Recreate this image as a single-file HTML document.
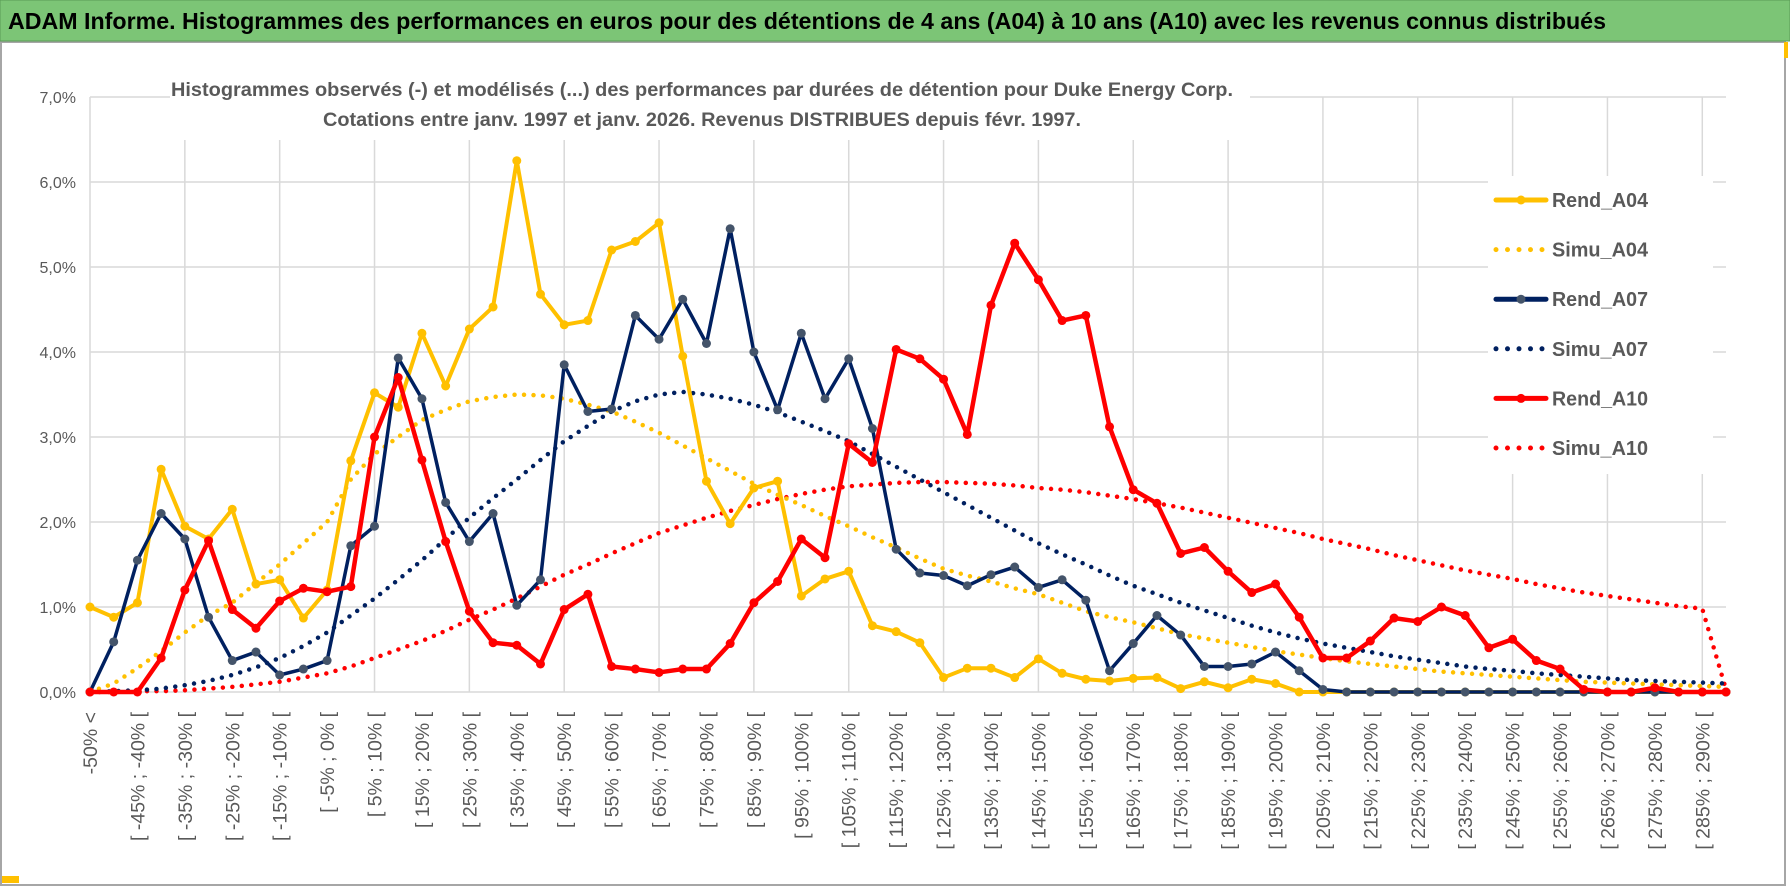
<!DOCTYPE html>
<html><head><meta charset="utf-8">
<style>
html,body{margin:0;padding:0;background:#fff;}
body{width:1790px;height:888px;overflow:hidden;font-family:"Liberation Sans",sans-serif;}
svg text{font-family:"Liberation Sans",sans-serif;}
</style></head>
<body>
<svg id="chart" width="1790" height="888" viewBox="0 0 1790 888" xmlns="http://www.w3.org/2000/svg">
  <rect x="0" y="0" width="1790" height="888" fill="#fff"/>
  <rect x="1" y="42" width="1784" height="843" fill="#fff" stroke="#a6a6a6" stroke-width="2"/>
  <rect x="0" y="0" width="1790" height="41" fill="#7cc576" stroke="#5a9c55" stroke-width="1"/>
  <text x="8" y="29" font-size="23" font-weight="bold" fill="#000" textLength="1598" lengthAdjust="spacingAndGlyphs">ADAM Informe. Histogrammes des performances en euros pour des détentions de 4 ans (A04) à 10 ans (A10) avec les revenus connus distribués</text>
  <rect x="1784" y="42" width="4" height="16" fill="#ffc000"/>
  <rect x="2" y="876" width="17" height="7" fill="#ffc000"/>
  <g id="grid"></g>
  <g id="axes"></g>
  <rect x="170" y="70" width="1080" height="70" fill="#fff"/>
  <text x="702" y="96" text-anchor="middle" font-size="19" font-weight="bold" fill="#595959" textLength="1062" lengthAdjust="spacingAndGlyphs">Histogrammes observés (-) et modélisés (...) des performances par durées de détention pour Duke Energy Corp.</text>
  <text x="702" y="126" text-anchor="middle" font-size="19" font-weight="bold" fill="#595959" textLength="758" lengthAdjust="spacingAndGlyphs">Cotations entre janv. 1997 et janv. 2026. Revenus DISTRIBUES depuis févr. 1997.</text>
  <g id="series"></g>
  <g id="legend"></g>
</svg>
<script>
const categories = ["-50% <"];
for (let k = 1; k < 70; k++) categories.push("[ " + (-55 + 5 * k) + "% ; " + (-50 + 5 * k) + "% [");
const yTicks = [0, 1, 2, 3, 4, 5, 6, 7];
const yTickLabels = ["0,0%", "1,0%", "2,0%", "3,0%", "4,0%", "5,0%", "6,0%", "7,0%"];
const rendA04 = [1.0,0.88,1.05,2.62,1.95,1.8,2.15,1.27,1.32,0.87,1.2,2.72,3.52,3.35,4.22,3.6,4.27,4.53,6.25,4.68,4.32,4.37,5.2,5.3,5.52,3.95,2.48,1.98,2.4,2.48,1.13,1.33,1.42,0.78,0.71,0.58,0.17,0.28,0.28,0.17,0.39,0.22,0.15,0.13,0.16,0.17,0.04,0.12,0.05,0.15,0.1,0,0,0,0,0,0,0,0,0,0,0,0,0,0,0,0,0,0,0];
const rendA07 = [0,0.59,1.55,2.1,1.8,0.88,0.37,0.47,0.2,0.27,0.37,1.72,1.95,3.93,3.45,2.23,1.77,2.1,1.02,1.32,3.85,3.3,3.33,4.43,4.15,4.62,4.1,5.45,4.0,3.32,4.22,3.45,3.92,3.1,1.68,1.4,1.37,1.25,1.38,1.47,1.23,1.32,1.08,0.25,0.57,0.9,0.67,0.3,0.3,0.33,0.47,0.25,0.03,0,0,0,0,0,0,0,0,0,0,0,0,0,0,0,0,0];
const rendA10 = [0,0,0,0.4,1.2,1.78,0.97,0.75,1.07,1.22,1.18,1.24,3.0,3.7,2.73,1.77,0.95,0.58,0.55,0.33,0.97,1.15,0.3,0.27,0.23,0.27,0.27,0.57,1.05,1.3,1.8,1.58,2.92,2.7,4.03,3.92,3.68,3.03,4.55,5.28,4.85,4.37,4.43,3.12,2.38,2.22,1.63,1.7,1.42,1.17,1.27,0.88,0.4,0.4,0.6,0.87,0.83,1.0,0.9,0.52,0.62,0.37,0.27,0.03,0,0,0.05,0,0,0];
const simuA04 = [0,0.1,0.28,0.48,0.7,0.9,1.05,1.28,1.5,1.75,2.0,2.5,2.8,3.0,3.2,3.32,3.42,3.47,3.5,3.49,3.45,3.38,3.3,3.18,3.05,2.9,2.75,2.6,2.45,2.32,2.2,2.07,1.95,1.82,1.7,1.57,1.45,1.37,1.3,1.22,1.15,1.05,0.95,0.88,0.82,0.75,0.68,0.63,0.58,0.53,0.48,0.44,0.4,0.36,0.33,0.3,0.27,0.24,0.22,0.2,0.18,0.16,0.14,0.12,0.11,0.1,0.09,0.08,0.07,0.06];
const simuA07 = [0,0.01,0.02,0.04,0.08,0.13,0.2,0.29,0.4,0.54,0.7,0.9,1.1,1.32,1.55,1.8,2.05,2.28,2.5,2.73,2.95,3.13,3.3,3.42,3.5,3.53,3.5,3.45,3.38,3.29,3.18,3.07,2.95,2.8,2.65,2.5,2.35,2.2,2.05,1.9,1.75,1.62,1.5,1.37,1.25,1.15,1.05,0.96,0.87,0.78,0.7,0.63,0.57,0.52,0.47,0.42,0.38,0.34,0.3,0.27,0.25,0.22,0.2,0.18,0.16,0.14,0.13,0.12,0.11,0.1];
const simuA10 = [0,0,0.01,0.01,0.02,0.04,0.06,0.09,0.12,0.17,0.22,0.3,0.4,0.5,0.6,0.72,0.85,0.97,1.1,1.24,1.38,1.5,1.63,1.75,1.87,1.96,2.05,2.13,2.2,2.27,2.33,2.38,2.42,2.44,2.46,2.47,2.47,2.46,2.45,2.43,2.4,2.38,2.35,2.31,2.27,2.22,2.17,2.11,2.05,1.99,1.93,1.87,1.8,1.74,1.68,1.61,1.55,1.49,1.43,1.38,1.33,1.27,1.22,1.17,1.13,1.09,1.05,1.01,0.98,0.03];

const NS = "http://www.w3.org/2000/svg";
const X0 = 90, X1 = 1726, Y0 = 692, YSTEP = 85;
function xPos(i){ return X0 + (X1 - X0) * i / (categories.length - 1); }
function yPos(v){ return Y0 - v * YSTEP; }
function mk(tag, attrs, parent){ const e = document.createElementNS(NS, tag); for (const k in attrs) e.setAttribute(k, attrs[k]); parent.appendChild(e); return e; }

const grid = document.getElementById("grid");
yTicks.forEach((t, i) => {
  const l = mk("line", {x1: X0, x2: X1, y1: yPos(t), y2: yPos(t), stroke: "#d9d9d9", "stroke-width": 1.5}, grid);
  
  
  const tx = mk("text", {x: 76, y: yPos(t) + 6, "text-anchor": "end", "font-size": 16, fill: "#595959"}, grid);
  
  
  tx.textContent = yTickLabels[i];
});
for (let i = 0; i < categories.length; i += 4) {
  const l = mk("line", {x1: xPos(i), x2: xPos(i), y1: yPos(7), y2: Y0, stroke: "#d9d9d9", "stroke-width": 1.5}, grid);
  
  
}
const axes = document.getElementById("axes");
for (let i = 0; i < categories.length; i += 2) {
  const x = xPos(i) + 7, y = 712;
  const tx = mk("text", {x: x, y: y, "text-anchor": "end", "font-size": 19.5, fill: "#595959", transform: "rotate(-90 " + x + " " + y + ")"}, axes);
  
  
  tx.textContent = categories[i];
}

const series = document.getElementById("series");
function drawSimu(vals, color, name){
  const pts = vals.map((v, i) => xPos(i) + "," + yPos(v)).join(" ");
  const p = mk("polyline", {points: pts, fill: "none", stroke: color, "stroke-width": 4.5, "stroke-linecap": "round", "stroke-dasharray": "0 9.5"}, series);
  
  
}
function drawRend(vals, color, mcolor, w, name){
  const pts = vals.map((v, i) => xPos(i) + "," + yPos(v)).join(" ");
  const p = mk("polyline", {points: pts, fill: "none", stroke: color, "stroke-width": w, "stroke-linejoin": "round"}, series);
  
  
  vals.forEach((v, i) => {
    const c = mk("circle", {cx: xPos(i), cy: yPos(v), r: 4.5, fill: mcolor}, series);
    
    
  });
}
drawSimu(simuA10, "#ff0000", "simu-a10-line");
drawSimu(simuA07, "#002060", "simu-a07-line");
drawSimu(simuA04, "#ffc000", "simu-a04-line");
drawRend(rendA04, "#ffc000", "#ffc000", 4, "rend-a04-line");
drawRend(rendA07, "#002060", "#44546a", 3.5, "rend-a07-line");
drawRend(rendA10, "#ff0000", "#ff0000", 4.5, "rend-a10-line");

const legend = document.getElementById("legend");
const lbg = mk("rect", {x: 1488, y: 176, width: 225, height: 298, fill: "#fff"}, legend);


const legItems = [["Rend_A04","#ffc000","#ffc000",false],["Simu_A04","#ffc000","",true],["Rend_A07","#002060","#44546a",false],["Simu_A07","#002060","",true],["Rend_A10","#ff0000","#ff0000",false],["Simu_A10","#ff0000","",true]];
legItems.forEach((it, k) => {
  const y = 200 + k * 49.6;
  const g = mk("g", {}, legend);
  
  
  if (it[3]) {
    mk("line", {x1: 1496, x2: 1546, y1: y, y2: y, stroke: it[1], "stroke-width": 5, "stroke-linecap": "round", "stroke-dasharray": "0 11.5"}, g);
  } else {
    mk("line", {x1: 1496, x2: 1546, y1: y, y2: y, stroke: it[1], "stroke-width": 5, "stroke-linecap": "round"}, g);
    mk("circle", {cx: 1521, cy: y, r: 4.5, fill: it[2]}, g);
  }
  const t = mk("text", {x: 1552, y: y + 7, "font-size": 20, "font-weight": "bold", fill: "#595959", textLength: 96, lengthAdjust: "spacingAndGlyphs"}, g);
  t.textContent = it[0];
});
</script>
</body></html>
